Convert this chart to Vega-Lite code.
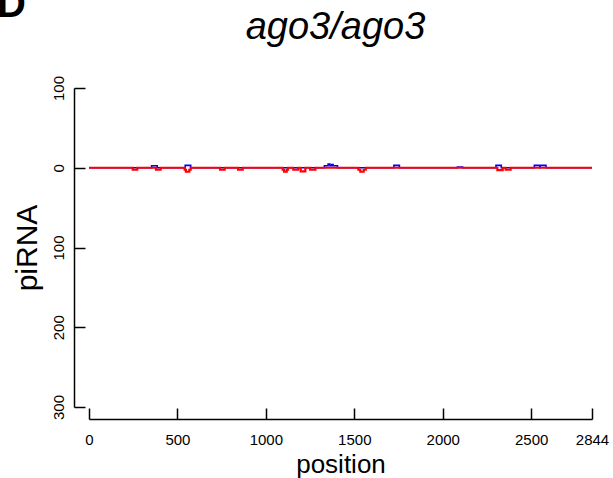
{
  "$schema": "https://vega.github.io/schema/vega-lite/v6.json",
  "width": 503,
  "height": 319,
  "autosize": "none",
  "padding": {"left": 89, "top": 88, "right": 21, "bottom": 71},
  "config": {"font": "Liberation Sans", "view": {"stroke": null}},
  "title": {"text": "ago3/ago3", "fontStyle": "italic", "fontWeight": "normal", "fontSize": 38, "anchor": "middle", "baseline": "alphabetic", "offset": -92, "dx": -5, "color": "black", "font": "Liberation Sans"},
  "datasets": {
    "reads": [
      {"series": "sense", "position": 0, "value": 0},
      {"series": "sense", "position": 354, "value": 2.5},
      {"series": "sense", "position": 386, "value": 0},
      {"series": "sense", "position": 544, "value": 3},
      {"series": "sense", "position": 575, "value": 0},
      {"series": "sense", "position": 1331, "value": 2.5},
      {"series": "sense", "position": 1352, "value": 4.5},
      {"series": "sense", "position": 1362, "value": 2.5},
      {"series": "sense", "position": 1372, "value": 4},
      {"series": "sense", "position": 1380, "value": 2.5},
      {"series": "sense", "position": 1405, "value": 0},
      {"series": "sense", "position": 1724, "value": 3},
      {"series": "sense", "position": 1755, "value": 0},
      {"series": "sense", "position": 2083, "value": 1},
      {"series": "sense", "position": 2113, "value": 0},
      {"series": "sense", "position": 2301, "value": 3},
      {"series": "sense", "position": 2331, "value": 0},
      {"series": "sense", "position": 2518, "value": 3},
      {"series": "sense", "position": 2549, "value": 0},
      {"series": "sense", "position": 2551, "value": 3},
      {"series": "sense", "position": 2584, "value": 0},
      {"series": "sense", "position": 2844, "value": 0},
      {"series": "antisense", "position": 0, "value": 0},
      {"series": "antisense", "position": 247, "value": -2.5},
      {"series": "antisense", "position": 273, "value": 0},
      {"series": "antisense", "position": 379, "value": -2.5},
      {"series": "antisense", "position": 405, "value": 0},
      {"series": "antisense", "position": 541, "value": -2.5},
      {"series": "antisense", "position": 548, "value": -5},
      {"series": "antisense", "position": 567, "value": -2.5},
      {"series": "antisense", "position": 575, "value": 0},
      {"series": "antisense", "position": 741, "value": -2.5},
      {"series": "antisense", "position": 767, "value": 0},
      {"series": "antisense", "position": 843, "value": -2.5},
      {"series": "antisense", "position": 869, "value": 0},
      {"series": "antisense", "position": 1095, "value": -2.5},
      {"series": "antisense", "position": 1103, "value": -5},
      {"series": "antisense", "position": 1118, "value": -2.5},
      {"series": "antisense", "position": 1125, "value": 0},
      {"series": "antisense", "position": 1155, "value": -2.5},
      {"series": "antisense", "position": 1182, "value": 0},
      {"series": "antisense", "position": 1197, "value": -4.5},
      {"series": "antisense", "position": 1223, "value": 0},
      {"series": "antisense", "position": 1250, "value": -2.5},
      {"series": "antisense", "position": 1280, "value": 0},
      {"series": "antisense", "position": 1523, "value": -2.5},
      {"series": "antisense", "position": 1534, "value": -5},
      {"series": "antisense", "position": 1553, "value": -2.5},
      {"series": "antisense", "position": 1565, "value": 0},
      {"series": "antisense", "position": 2309, "value": -3},
      {"series": "antisense", "position": 2339, "value": 0},
      {"series": "antisense", "position": 2356, "value": -2.5},
      {"series": "antisense", "position": 2384, "value": 0},
      {"series": "antisense", "position": 2844, "value": 0}
    ]
  },
  "layer": [
    {
      "data": {"name": "reads"},
      "transform": [{"filter": "datum.series == 'sense'"}],
      "mark": {"type": "line", "interpolate": "step-after", "color": "#0000ff", "strokeWidth": 1.6, "clip": false},
      "encoding": {
        "x": {
          "field": "position", "type": "quantitative",
          "scale": {"domain": [0, 2844], "nice": false, "zero": false},
          "axis": {
            "values": [0, 500, 1000, 1500, 2000, 2500, 2844],
            "format": "d", "grid": false, "offset": 12, "labelFlush": false,
            "tickSize": -11, "tickColor": "black", "tickWidth": 1.5,
            "domainColor": "black", "domainWidth": 1.5,
            "labelFontSize": 15, "labelColor": "black", "labelPadding": 24,
            "labelFont": "Liberation Sans",
            "title": "position", "titleFontSize": 26, "titleFontWeight": "normal",
            "titleColor": "black", "titlePadding": 4, "titleFont": "Liberation Sans"
          }
        },
        "y": {
          "field": "value", "type": "quantitative",
          "scale": {"domain": [-300, 100], "nice": false, "zero": false},
          "axis": {
            "values": [-300, -250, -200, -150, -100, -50, 0, 50, 100],
            "labelExpr": "datum.value == -150 || datum.value == -250 ? '' : format(abs(datum.value), 'd')",
            "grid": false, "offset": 15, "labelFlush": false,
            "tickSize": -11, "tickColor": "black", "tickWidth": 1.5,
            "domainColor": "black", "domainWidth": 1.5,
            "labelFontSize": 15, "labelColor": "black", "labelAngle": -90,
            "labelAlign": "center", "labelBaseline": "alphabetic", "labelPadding": 22,
            "labelFont": "Liberation Sans",
            "title": "piRNA", "titleFontSize": 30, "titleFontWeight": "normal",
            "titleColor": "black", "titlePadding": 9, "titleFont": "Liberation Sans"
          }
        }
      }
    },
    {
      "data": {"name": "reads"},
      "transform": [{"filter": "datum.series == 'antisense'"}],
      "mark": {"type": "line", "interpolate": "step-after", "color": "#ff0000", "strokeWidth": 2.2, "clip": false},
      "encoding": {
        "x": {"field": "position", "type": "quantitative"},
        "y": {"field": "value", "type": "quantitative"}
      }
    },
    {
      "data": {"values": [{"label": "D"}]},
      "mark": {"type": "text", "fontSize": 40, "fontWeight": "bold", "align": "left", "baseline": "alphabetic", "color": "black", "font": "Liberation Sans"},
      "encoding": {
        "text": {"field": "label"},
        "x": {"datum": -520},
        "y": {"datum": 189}
      }
    }
  ]
}
